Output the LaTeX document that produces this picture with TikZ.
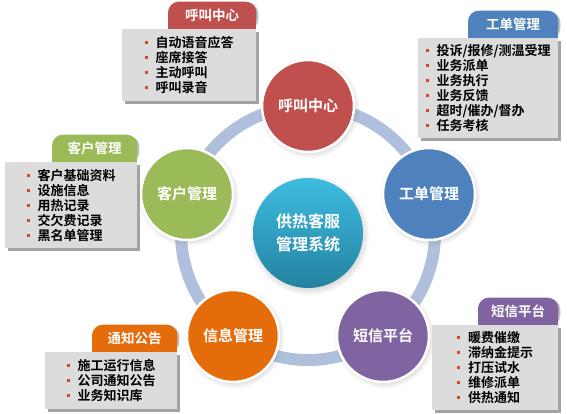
\documentclass[tikz,border=0pt]{standalone}
\usepackage{fontspec}
\newfontfamily\cjk{Noto Sans CJK SC}[BoldFont={Noto Sans CJK SC Bold}]
\usetikzlibrary{shadows,backgrounds}

\definecolor{callred}{RGB}{192,80,77}
\definecolor{orderblue}{RGB}{79,129,189}
\definecolor{smspurple}{RGB}{128,100,162}
\definecolor{infoorange}{RGB}{228,108,10}
\definecolor{custgreen}{RGB}{155,187,89}
\definecolor{ringblue}{RGB}{176,192,220}
\definecolor{hubtop}{RGB}{62,188,224}
\definecolor{hubbottom}{RGB}{36,130,160}
\definecolor{listgray}{RGB}{220,220,220}
\definecolor{dotred}{RGB}{215,70,35}

\newcommand{\itm}[1]{\makebox[11pt][l]{\textcolor{dotred}{\rule[3.5pt]{3pt}{3pt}}}#1}

\begin{document}
\begin{tikzpicture}[
  x=1pt,y=-1pt,
  every node/.style={font=\cjk\bfseries},
  module/.style={circle,draw=white,line width=2.5pt,minimum size=92pt,text=white,
    font=\cjk\bfseries\fontsize{15}{17}\selectfont,
    circular drop shadow={shadow xshift=1pt,shadow yshift=-1.5pt,opacity=.3}},
  tab/.style={minimum height=27pt,inner sep=0pt,text=white,
    font=\cjk\bfseries\fontsize{13.5}{15}\selectfont},
  itembox/.style={anchor=north west,fill=listgray,align=left,inner xsep=6pt,inner ysep=0pt,
    font=\cjk\bfseries\fontsize{13}{15}\selectfont,
    drop shadow={shadow xshift=2.5pt,shadow yshift=-2.5pt,fill=black!45,opacity=.8}}
]
  \useasboundingbox (0,0) rectangle (567,414);

  % ring and modules
  \draw[ringblue,line width=12pt] (308,233) circle[radius=127];
  \node[circle,minimum size=110pt,top color=hubtop,bottom color=hubbottom,text=white,align=center,
    font=\cjk\bfseries\fontsize{16}{23}\selectfont,
    circular drop shadow={shadow xshift=1pt,shadow yshift=-2pt,opacity=.3}] (hub) at (308,233) {供热客服\\管理系统};
  \node[module,fill=callred] (call) at (308,106) {呼叫中心};
  \node[module,fill=orderblue] (order) at (429,194) {工单管理};
  \node[module,fill=smspurple] (sms) at (383,336) {短信平台};
  \node[module,fill=infoorange] (info) at (233,336) {信息管理};
  \node[module,fill=custgreen] (cust) at (187,194) {客户管理};

  % lists
  \node[itembox,minimum width=134pt,minimum height=72pt] (calllist) at (122,29)
    {\itm{自动语音应答}\\\itm{座席接答}\\\itm{主动呼叫}\\\itm{呼叫录音}};
  \node[tab,minimum width=88pt,anchor=south east] (calltab) at (calllist.north east) {呼叫中心};

  \node[itembox,minimum width=140pt,minimum height=100pt] (orderlist) at (418,38)
    {\itm{投诉/报修/测温受理}\\\itm{业务派单}\\\itm{业务执行}\\\itm{业务反馈}\\\itm{超时/催办/督办}\\\itm{任务考核}};
  \node[tab,minimum width=90pt,anchor=south east] (ordertab) at (orderlist.north east) {工单管理};

  \node[itembox,minimum width=132pt,minimum height=86pt] (custlist) at (5,162)
    {\itm{客户基础资料}\\\itm{设施信息}\\\itm{用热记录}\\\itm{交欠费记录}\\\itm{黑名单管理}};
  \node[tab,minimum width=85pt,anchor=south east] (custtab) at (custlist.north east) {客户管理};

  \node[itembox,minimum width=132pt,minimum height=57pt] (infolist) at (45,352)
    {\itm{施工运行信息}\\\itm{公司通知公告}\\\itm{业务知识库}};
  \node[tab,minimum width=85pt,anchor=south east] (infotab) at (infolist.north east) {通知公告};

  \node[itembox,minimum width=126pt,minimum height=85pt] (smslist) at (432,325)
    {\itm{暖费催缴}\\\itm{滞纳金提示}\\\itm{打压试水}\\\itm{维修派单}\\\itm{供热通知}};
  \node[tab,minimum width=80pt,anchor=south east] (smstab) at (smslist.north east) {短信平台};

  % tab backgrounds
  \begin{scope}[on background layer]
    \foreach \t/\c in {calltab/callred,ordertab/orderblue,custtab/custgreen,infotab/infoorange,smstab/smspurple}{
      \fill[black!25,rounded corners=11pt] ([xshift=2pt,yshift=-1pt]\t.south west) rectangle ([xshift=2pt,yshift=-1pt]\t.north east);
      \fill[\c,rounded corners=11pt] (\t.south west) rectangle (\t.north east);
      \fill[\c] (\t.west) rectangle (\t.south east);
    }
  \end{scope}
\end{tikzpicture}
\end{document}
